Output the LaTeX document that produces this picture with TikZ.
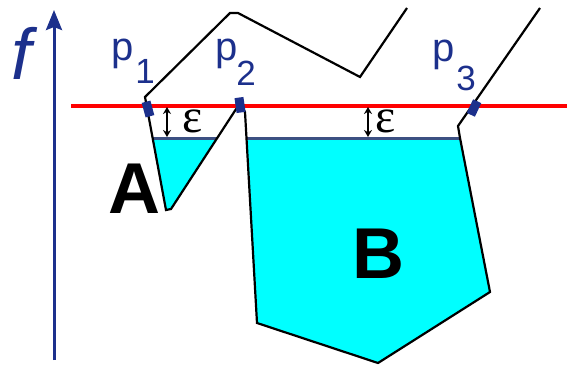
\documentclass[tikz,border=0pt]{standalone}
\usepackage{fontspec}
\usetikzlibrary{arrows.meta}
\newfontfamily\arialf{Liberation Sans}
\newfontfamily\serifg{Liberation Serif}
\definecolor{navy}{RGB}{28,48,140}
\definecolor{waterline}{RGB}{60,80,130}
\definecolor{cyanfill}{RGB}{0,255,255}
\tikzset{
  curve/.style={black, line width=2.2pt, line join=miter},
  level/.style={red, line width=3.4pt},
  water/.style={waterline, line width=3.2pt},
  pool/.style={fill=cyanfill, draw=none},
  marker/.style={rectangle, fill=navy, draw=none, minimum width=9pt, minimum height=15pt, inner sep=0pt},
  axisline/.style={navy, line width=3pt, -{Stealth[length=20pt,width=16pt,inset=3pt]}},
  epsarrow/.style={black, line width=2.2pt, {Stealth[length=7pt,width=8pt]}-{Stealth[length=7pt,width=8pt]}},
  plabel/.style={navy, anchor=base, inner sep=0pt, font=\arialf\fontsize{40}{40}\selectfont},
  sublabel/.style={navy, anchor=base, inner sep=0pt, font=\arialf\fontsize{35}{35}\selectfont},
  biglabel/.style={black, anchor=base, inner sep=0pt, font=\arialf\bfseries\fontsize{72}{72}\selectfont},
  epslabel/.style={black, anchor=base, inner sep=0pt, font=\serifg\fontsize{48}{48}\selectfont},
}
\begin{document}
\begin{tikzpicture}[x=1pt,y=-1pt]
\useasboundingbox (0,0) rectangle (569,366);
% curve vertices
\coordinate (c1) at (540,8);
\coordinate (c3) at (458,126);
\coordinate (c4) at (460,138);
\coordinate (c5) at (490,292);
\coordinate (c6) at (378,363);
\coordinate (c7) at (257,323);
\coordinate (c8) at (245,112);
\coordinate (c9) at (240,103);
\coordinate (c10) at (171,209);
\coordinate (c11) at (166,210);
\coordinate (c12) at (145,97);
\coordinate (c13) at (230,13);
\coordinate (c14) at (238,13);
\coordinate (c15) at (360,77);
\coordinate (c16) at (407,8);
% pools
\fill[pool] (152.8,139) -- (c11) -- (c10) -- (216.6,139) -- cycle;
\fill[pool] (246.5,139) -- (c7) -- (c6) -- (c5) -- (460,139) -- cycle;
% water lines
\coordinate (wa1) at (152,138.5);
\coordinate (wa2) at (217,138.5);
\coordinate (wb1) at (246,138.5);
\coordinate (wb2) at (460,138.5);
\draw[water] (wa1) -- (wa2);
\draw[water] (wb1) -- (wb2);
% curve
\draw[curve] (c16) -- (c15) -- (c14) -- (c13) -- (c12) -- (c11) -- (c10) -- (c9) -- (c8) -- (c7) -- (c6) -- (c5) -- (c4) -- (c3) -- (c1);
% level line
\coordinate (r1) at (71,106);
\coordinate (r2) at (567,106);
\draw[level] (r1) -- (r2);
% axis
\coordinate (ax0) at (54,360);
\coordinate (ax1) at (54,10);
\draw[axisline] (ax0) -- (ax1);
\node[navy, anchor=base, inner sep=0pt, font=\arialf\itshape\fontsize{72}{72}\selectfont] (f) at (22,80) {f};
% markers
\node[marker, rotate=15] (m1) at (148,109) {};
\node[marker, rotate=8] (m2) at (240,105) {};
\node[marker, rotate=-25] (m3) at (474,108) {};
% labels
\node[plabel] (p1) at (123,61) {p};
\node[sublabel] (s1) at (145,84) {1};
\node[plabel] (p2) at (227,61) {p};
\node[sublabel] (s2) at (246,86) {2};
\node[plabel] (p3) at (444,62) {p};
\node[sublabel] (s3) at (466,91) {3};
% epsilon arrows
\coordinate (ea1) at (167,107);
\coordinate (ea2) at (167,137);
\coordinate (eb1) at (368,107);
\coordinate (eb2) at (368,137);
\draw[epsarrow] (ea1) -- (ea2);
\draw[epsarrow] (eb1) -- (eb2);
\node[epslabel] (e1) at (193,133) {ε};
\node[epslabel] (e2) at (386,133) {ε};
% region labels
\node[biglabel] (A) at (134,213) {A};
\node[biglabel] (B) at (378,278) {B};
\end{tikzpicture}
\end{document}
